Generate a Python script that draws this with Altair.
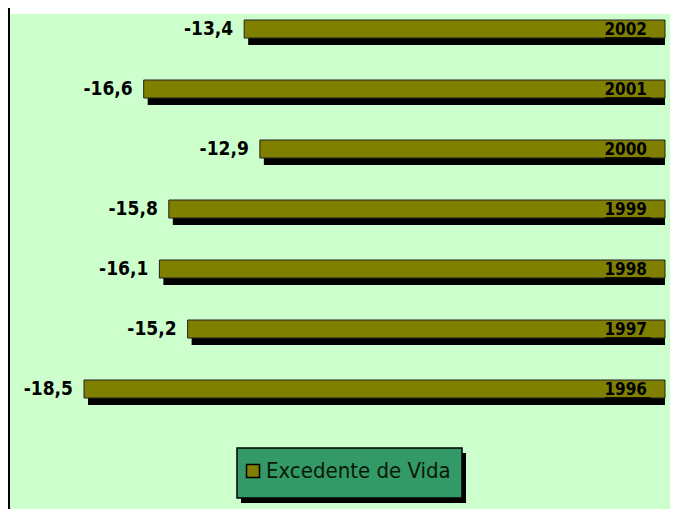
import altair as alt
import pandas as pd

years = ["2002", "2001", "2000", "1999", "1998", "1997", "1996"]
values = [-13.4, -16.6, -12.9, -15.8, -16.1, -15.2, -18.5]
value_labels = ["-13,4", "-16,6", "-12,9", "-15,8", "-16,1", "-15,2", "-18,5"]
series = "Excedente de Vida"

df = pd.DataFrame({
    "year": years,
    "value": values,
    "label": value_labels,
    "zero": [0] * len(years),
    "series": [series] * len(years),
})
one = pd.DataFrame({"a": [0]})

W, H = 662, 501
FONT = "DejaVu Sans Condensed, DejaVu Sans, sans-serif"
GREEN = "#CCFFCC"
OLIVE = "#808000"
TEAL = "#339966"

xscale = alt.Scale(domain=[-20.92, 0.159], nice=False, zero=False)
yscale = alt.Scale(type="band", domain=years, range=[-9, 411], paddingInner=0, paddingOuter=0)

X = alt.X("value:Q", scale=xscale, axis=None)
X2 = alt.X2("zero")
Y = alt.Y("year:N", scale=yscale, axis=None)
XZ = alt.X("zero:Q", scale=xscale, axis=None)

bg = alt.Chart(one).mark_rect(color=GREEN).encode(
    x=alt.value(1), x2=alt.value(W), y=alt.value(6), y2=alt.value(H)
)
leftline = alt.Chart(one).mark_rule(color="black", strokeWidth=2).encode(
    x=alt.value(1), y=alt.value(0), y2=alt.value(H)
)

shadow = alt.Chart(df).mark_bar(color="black", height=18, xOffset=4, x2Offset=0, yOffset=7).encode(
    x=X, x2=X2, y=Y
)
bars = alt.Chart(df).mark_bar(height=18, stroke="#222222", strokeWidth=1).encode(
    x=X, x2=X2, y=Y,
    color=alt.Color(
        "series:N",
        scale=alt.Scale(domain=[series], range=[OLIVE]),
        legend=alt.Legend(
            orient="none", legendX=234, legendY=452, title=None, padding=0,
            symbolType="square", symbolSize=169, symbolFillColor=OLIVE,
            symbolStrokeColor="black", symbolStrokeWidth=1.5,
            labelFont=FONT, labelFontSize=22, labelColor="#0a1a0a",
            labelOffset=2, labelLimit=400,
        ),
    ),
)
vals = alt.Chart(df).mark_text(align="right", baseline="middle", dx=-11, fontSize=19, fontWeight="bold",
                               font=FONT, color="black").encode(
    x=X, y=Y, text="label:N"
)
yr = alt.Chart(df).mark_text(align="right", baseline="middle", dx=-18, dy=1, fontSize=17, fontWeight="bold",
                             font=FONT, color="black").encode(
    x=XZ, y=Y, text="year:N"
)
underline = alt.Chart(df).mark_rule(color="black", strokeWidth=1.5, xOffset=-60, x2Offset=-14, yOffset=9).encode(
    x=XZ, x2=X2, y=Y
)
legshadow = alt.Chart(one).mark_rect(color="black").encode(
    x=alt.value(233), x2=alt.value(458), y=alt.value(445), y2=alt.value(495)
)
legbox = alt.Chart(one).mark_rect(color=TEAL, stroke="black", strokeWidth=1.5).encode(
    x=alt.value(229), x2=alt.value(454), y=alt.value(440), y2=alt.value(490)
)

chart = alt.layer(bg, leftline, legshadow, legbox, shadow, bars, vals, yr, underline).properties(
    width=W, height=H, padding=0, autosize=alt.AutoSizeParams(type="none"), background="white"
).configure_view(stroke=None)

chart.save("out.html", embed_options={"renderer": "svg", "actions": False})
